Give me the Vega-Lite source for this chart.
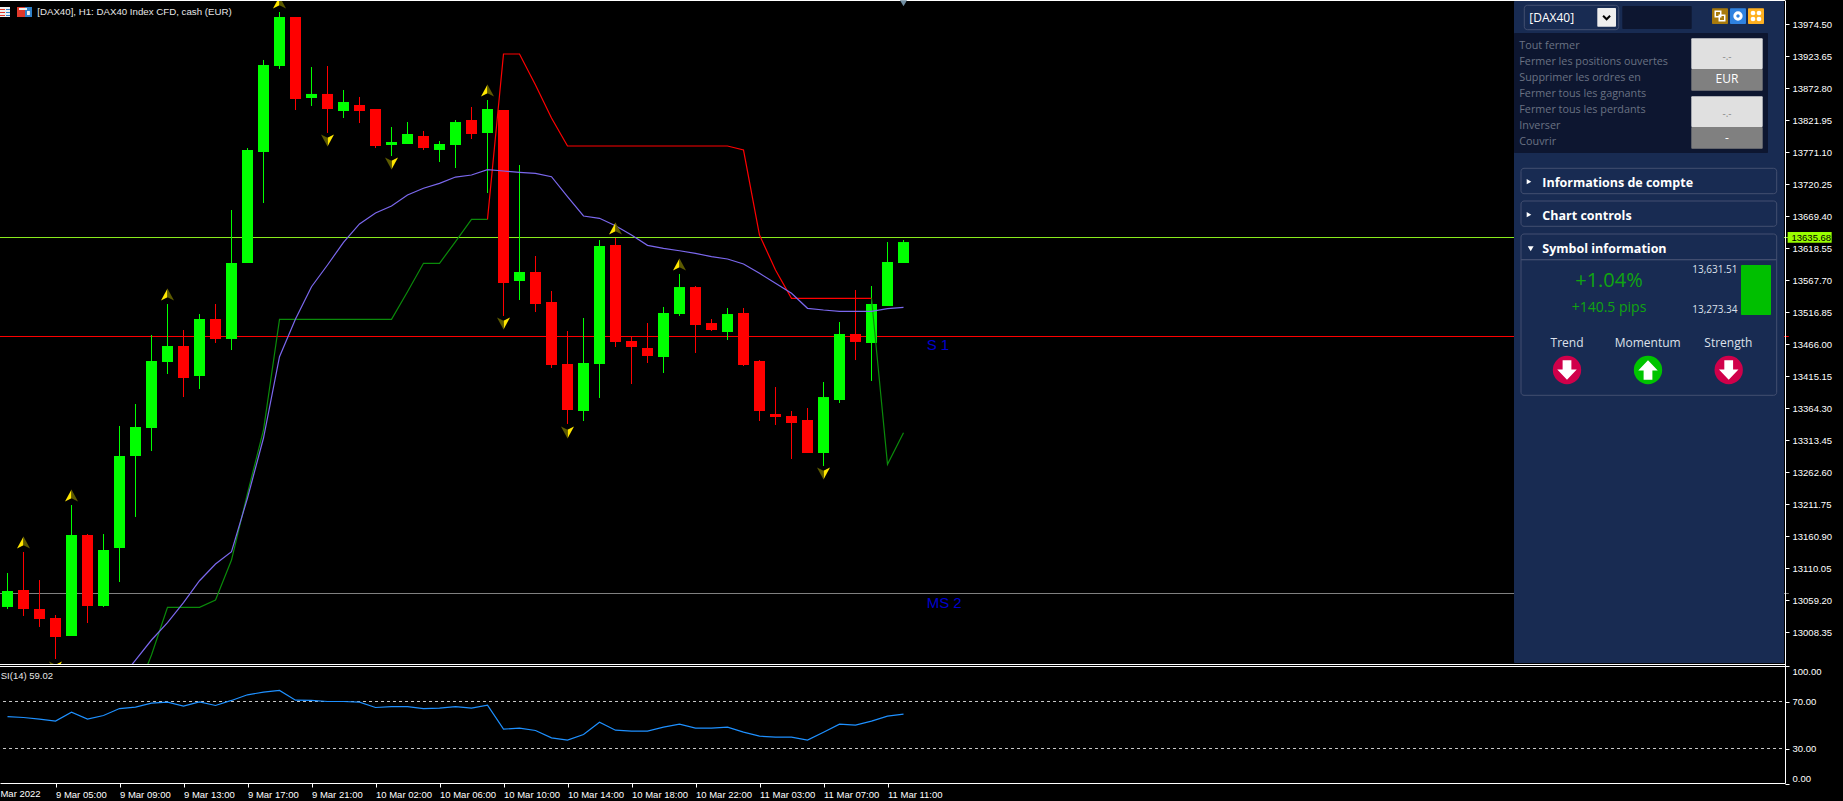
{
  "$schema": "https://vega.github.io/schema/vega-lite/v6.json",
  "autosize": "none",
  "width": 1785,
  "height": 783,
  "padding": {"left": 0, "top": 0, "right": 58, "bottom": 18},
  "background": "#000000",
  "config": {
    "view": {"stroke": null},
    "axis": {"labelFont": "Liberation Sans", "labelFontSize": 9.5, "labelColor": "#ffffff", "tickColor": "#ffffff", "domainColor": "#ffffff", "grid": false, "title": null, "labelOverlap": false, "labelFlush": false, "labelBound": false, "tickOpacity": 1},
    "text": {"font": "Liberation Sans"}
  },
  "datasets": {
    "candles": [
      {"i":0,"t":"9 Mar 02:00","o":13048.6,"h":13102.6,"l":13045.4,"c":13074.0},
      {"i":1,"t":"9 Mar 03:00","o":13075.6,"h":13136.0,"l":13034.3,"c":13045.4},
      {"i":2,"t":"9 Mar 04:00","o":13045.4,"h":13091.4,"l":13016.8,"c":13029.5},
      {"i":3,"t":"9 Mar 05:00","o":13031.1,"h":13035.8,"l":12965.9,"c":13000.9},
      {"i":4,"t":"9 Mar 06:00","o":13002.5,"h":13210.6,"l":13002.5,"c":13163.0},
      {"i":5,"t":"9 Mar 07:00","o":13163.0,"h":13164.5,"l":13023.1,"c":13050.1},
      {"i":6,"t":"9 Mar 08:00","o":13050.1,"h":13164.5,"l":13048.6,"c":13139.1},
      {"i":7,"t":"9 Mar 09:00","o":13142.3,"h":13336.2,"l":13088.3,"c":13288.5},
      {"i":8,"t":"9 Mar 10:00","o":13288.5,"h":13371.1,"l":13191.6,"c":13334.6},
      {"i":9,"t":"9 Mar 11:00","o":13333.0,"h":13480.8,"l":13296.4,"c":13439.5},
      {"i":10,"t":"9 Mar 12:00","o":13437.9,"h":13530.0,"l":13418.8,"c":13463.3},
      {"i":11,"t":"9 Mar 13:00","o":13463.3,"h":13488.7,"l":13382.2,"c":13412.4},
      {"i":12,"t":"9 Mar 14:00","o":13415.6,"h":13514.1,"l":13395.0,"c":13506.2},
      {"i":13,"t":"9 Mar 15:00","o":13506.2,"h":13530.0,"l":13468.1,"c":13474.4},
      {"i":14,"t":"9 Mar 16:00","o":13474.4,"h":13679.4,"l":13456.9,"c":13595.2},
      {"i":15,"t":"9 Mar 17:00","o":13595.2,"h":13777.9,"l":13595.2,"c":13774.8},
      {"i":16,"t":"9 Mar 18:00","o":13771.6,"h":13917.8,"l":13690.5,"c":13909.8},
      {"i":17,"t":"9 Mar 19:00","o":13908.2,"h":13994.0,"l":13903.5,"c":13986.1},
      {"i":18,"t":"9 Mar 20:00","o":13986.1,"h":13986.1,"l":13838.3,"c":13855.8},
      {"i":19,"t":"9 Mar 21:00","o":13857.4,"h":13906.6,"l":13844.7,"c":13863.8},
      {"i":20,"t":"9 Mar 22:00","o":13863.8,"h":13908.2,"l":13801.8,"c":13839.9},
      {"i":21,"t":"9 Mar 23:00","o":13836.7,"h":13870.1,"l":13825.6,"c":13851.0},
      {"i":22,"t":"10 Mar 01:00","o":13846.3,"h":13859.0,"l":13817.6,"c":13836.7},
      {"i":23,"t":"10 Mar 02:00","o":13839.9,"h":13839.9,"l":13777.9,"c":13781.1},
      {"i":24,"t":"10 Mar 03:00","o":13782.7,"h":13811.3,"l":13765.2,"c":13787.5},
      {"i":25,"t":"10 Mar 04:00","o":13784.3,"h":13819.2,"l":13784.3,"c":13800.2},
      {"i":26,"t":"10 Mar 05:00","o":13797.0,"h":13805.0,"l":13774.8,"c":13777.9},
      {"i":27,"t":"10 Mar 06:00","o":13774.8,"h":13789.0,"l":13755.7,"c":13784.3},
      {"i":28,"t":"10 Mar 07:00","o":13782.7,"h":13822.4,"l":13746.1,"c":13819.2},
      {"i":29,"t":"10 Mar 08:00","o":13822.4,"h":13843.1,"l":13792.2,"c":13800.2},
      {"i":30,"t":"10 Mar 09:00","o":13801.8,"h":13854.2,"l":13706.4,"c":13839.9},
      {"i":31,"t":"10 Mar 10:00","o":13838.3,"h":13838.3,"l":13511.0,"c":13563.4},
      {"i":32,"t":"10 Mar 11:00","o":13566.6,"h":13750.9,"l":13536.4,"c":13580.9},
      {"i":33,"t":"10 Mar 12:00","o":13580.9,"h":13606.3,"l":13517.3,"c":13530.0},
      {"i":34,"t":"10 Mar 13:00","o":13533.2,"h":13550.7,"l":13428.3,"c":13433.1},
      {"i":35,"t":"10 Mar 14:00","o":13434.7,"h":13487.1,"l":13339.4,"c":13361.6},
      {"i":36,"t":"10 Mar 15:00","o":13360.0,"h":13507.8,"l":13344.1,"c":13436.3},
      {"i":37,"t":"10 Mar 16:00","o":13434.7,"h":13631.7,"l":13380.7,"c":13622.2},
      {"i":38,"t":"10 Mar 17:00","o":13623.8,"h":13634.9,"l":13461.7,"c":13469.7},
      {"i":39,"t":"10 Mar 18:00","o":13471.2,"h":13477.6,"l":13402.9,"c":13461.7},
      {"i":40,"t":"10 Mar 19:00","o":13460.1,"h":13499.8,"l":13436.3,"c":13447.4},
      {"i":41,"t":"10 Mar 20:00","o":13445.8,"h":13525.3,"l":13420.4,"c":13515.7},
      {"i":42,"t":"10 Mar 21:00","o":13514.1,"h":13577.7,"l":13511.0,"c":13557.0},
      {"i":43,"t":"10 Mar 22:00","o":13557.0,"h":13558.6,"l":13452.2,"c":13496.7},
      {"i":44,"t":"10 Mar 23:00","o":13499.8,"h":13506.2,"l":13487.1,"c":13488.7},
      {"i":45,"t":"11 Mar 01:00","o":13485.5,"h":13523.7,"l":13472.8,"c":13514.1},
      {"i":46,"t":"11 Mar 02:00","o":13515.7,"h":13523.7,"l":13431.5,"c":13433.1},
      {"i":47,"t":"11 Mar 03:00","o":13439.5,"h":13441.0,"l":13344.1,"c":13360.0},
      {"i":48,"t":"11 Mar 04:00","o":13355.2,"h":13398.1,"l":13337.8,"c":13350.5},
      {"i":49,"t":"11 Mar 05:00","o":13352.1,"h":13360.0,"l":13283.7,"c":13340.9},
      {"i":50,"t":"11 Mar 06:00","o":13345.7,"h":13364.8,"l":13293.3,"c":13293.3},
      {"i":51,"t":"11 Mar 07:00","o":13293.3,"h":13406.1,"l":13272.6,"c":13382.2},
      {"i":52,"t":"11 Mar 08:00","o":13377.5,"h":13501.4,"l":13372.7,"c":13482.4},
      {"i":53,"t":"11 Mar 09:00","o":13482.4,"h":13552.3,"l":13441.0,"c":13469.7},
      {"i":54,"t":"11 Mar 10:00","o":13468.1,"h":13558.6,"l":13407.7,"c":13530.0},
      {"i":55,"t":"11 Mar 11:00","o":13526.8,"h":13628.5,"l":13526.8,"c":13596.8},
      {"i":56,"t":"11 Mar 12:00","o":13595.2,"h":13631.7,"l":13595.2,"c":13628.5}
    ],
    "ma": [
      {"i":7,"p":12932.5},{"i":8,"p":12964.3},{"i":9,"p":12996.1},{"i":10,"p":13023.6},{"i":11,"p":13055.4},{"i":12,"p":13090.3},{"i":13,"p":13116.9},{"i":14,"p":13136.4},{"i":15,"p":13221.8},{"i":16,"p":13317.1},{"i":17,"p":13446.3},{"i":18,"p":13506.2},{"i":19,"p":13557.5},{"i":20,"p":13592.0},{"i":21,"p":13628.1},{"i":22,"p":13657.2},{"i":23,"p":13674.6},{"i":24,"p":13685.8},{"i":25,"p":13703.2},{"i":26,"p":13713.9},{"i":27,"p":13721.8},{"i":28,"p":13731.8},{"i":29,"p":13735.0},{"i":30,"p":13743.4},{"i":31,"p":13741.4},{"i":32,"p":13739.3},{"i":33,"p":13737.7},{"i":34,"p":13732.3},{"i":35,"p":13700.5},{"i":36,"p":13669.9},{"i":37,"p":13666.2},{"i":38,"p":13654.5},{"i":39,"p":13639.7},{"i":40,"p":13623.3},{"i":41,"p":13618.5},{"i":42,"p":13614.7},{"i":43,"p":13610.6},{"i":44,"p":13605.2},{"i":45,"p":13601.5},{"i":46,"p":13593.6},{"i":47,"p":13578.8},{"i":48,"p":13562.9},{"i":49,"p":13547.0},{"i":50,"p":13523.2},{"i":51,"p":13520.5},{"i":52,"p":13518.4},{"i":53,"p":13518.4},{"i":54,"p":13518.4},{"i":55,"p":13522.6},{"i":56,"p":13524.8}
    ],
    "trend": [
      {"leg":"up1","i":8,"p":12908.7},{"leg":"up1","i":9,"p":12972.3},{"leg":"up1","i":10,"p":13048.1},{"leg":"up1","i":11,"p":13048.1},{"leg":"up1","i":12,"p":13048.1},{"leg":"up1","i":13,"p":13059.7},{"leg":"up1","i":14,"p":13123.2},{"leg":"up1","i":15,"p":13229.2},{"leg":"up1","i":16,"p":13329.8},{"leg":"up1","i":17,"p":13505.7},{"leg":"up1","i":18,"p":13505.7},{"leg":"up1","i":19,"p":13505.7},{"leg":"up1","i":20,"p":13505.7},{"leg":"up1","i":21,"p":13505.7},{"leg":"up1","i":22,"p":13505.7},{"leg":"up1","i":23,"p":13505.7},{"leg":"up1","i":24,"p":13505.7},{"leg":"up1","i":25,"p":13549.6},{"leg":"up1","i":26,"p":13594.7},{"leg":"up1","i":27,"p":13594.7},{"leg":"up1","i":28,"p":13629.0},{"leg":"up1","i":29,"p":13664.6},{"leg":"up1","i":30,"p":13664.6},
      {"leg":"down","i":30,"p":13664.6},{"leg":"down","i":31,"p":13927.3},{"leg":"down","i":32,"p":13927.3},{"leg":"down","i":33,"p":13878.0},{"leg":"down","i":34,"p":13825.6},{"leg":"down","i":35,"p":13781.1},{"leg":"down","i":36,"p":13781.1},{"leg":"down","i":37,"p":13781.1},{"leg":"down","i":38,"p":13781.1},{"leg":"down","i":39,"p":13781.1},{"leg":"down","i":40,"p":13781.1},{"leg":"down","i":41,"p":13781.1},{"leg":"down","i":42,"p":13781.1},{"leg":"down","i":43,"p":13781.1},{"leg":"down","i":44,"p":13781.1},{"leg":"down","i":45,"p":13781.1},{"leg":"down","i":46,"p":13774.7},{"leg":"down","i":47,"p":13639.7},{"leg":"down","i":48,"p":13584.1},{"leg":"down","i":49,"p":13539.1},{"leg":"down","i":50,"p":13539.1},{"leg":"down","i":51,"p":13539.1},{"leg":"down","i":52,"p":13539.1},{"leg":"down","i":53,"p":13539.1},{"leg":"down","i":54,"p":13539.1},
      {"leg":"up2","i":54,"p":13539.1},{"leg":"up2","i":55,"p":13275.3},{"leg":"up2","i":56,"p":13325.5}
    ],
    "rsi": [
      {"i":0,"rsi":57.2},{"i":1,"rsi":56.4},{"i":2,"rsi":55.0},{"i":3,"rsi":53.3},{"i":4,"rsi":60.9},{"i":5,"rsi":55.0},{"i":6,"rsi":58.1},{"i":7,"rsi":64.0},{"i":8,"rsi":65.2},{"i":9,"rsi":68.6},{"i":10,"rsi":69.4},{"i":11,"rsi":66.0},{"i":12,"rsi":69.7},{"i":13,"rsi":66.6},{"i":14,"rsi":70.9},{"i":15,"rsi":75.7},{"i":16,"rsi":77.9},{"i":17,"rsi":79.4},{"i":18,"rsi":71.1},{"i":19,"rsi":70.9},{"i":20,"rsi":70.0},{"i":21,"rsi":70.0},{"i":22,"rsi":69.4},{"i":23,"rsi":64.9},{"i":24,"rsi":65.7},{"i":25,"rsi":65.7},{"i":26,"rsi":64.0},{"i":27,"rsi":64.3},{"i":28,"rsi":65.7},{"i":29,"rsi":64.3},{"i":30,"rsi":66.9},{"i":31,"rsi":46.5},{"i":32,"rsi":47.3},{"i":33,"rsi":45.3},{"i":34,"rsi":39.1},{"i":35,"rsi":37.1},{"i":36,"rsi":41.9},{"i":37,"rsi":52.4},{"i":38,"rsi":45.6},{"i":39,"rsi":44.8},{"i":40,"rsi":44.8},{"i":41,"rsi":48.2},{"i":42,"rsi":50.7},{"i":43,"rsi":47.3},{"i":44,"rsi":47.3},{"i":45,"rsi":48.2},{"i":46,"rsi":43.9},{"i":47,"rsi":40.5},{"i":48,"rsi":39.6},{"i":49,"rsi":39.6},{"i":50,"rsi":37.1},{"i":51,"rsi":43.9},{"i":52,"rsi":50.7},{"i":53,"rsi":49.9},{"i":54,"rsi":53.3},{"i":55,"rsi":57.5},{"i":56,"rsi":59.2}
    ],
    "levels": [
      {"name":"Bid","p":13635.68,"i":-0.46875,"i2":111.33},
      {"name":"S 1","p":13478.4,"i":-0.46875,"i2":111.33},
      {"name":"MS 2","p":13070.0,"i":-0.46875,"i2":111.33}
    ],
    "frame": [
      {"p":14012.3,"i":-0.46875,"i2":111.09375},
      {"p":12957.18,"i":-0.46875,"i2":111.09375},
      {"p":12954.0,"i":-0.46875,"i2":111.09375}
    ],
    "fractals": [
      {"dir":"up","i":1,"p":13150.2},{"dir":"up","i":4,"p":13224.9},{"dir":"up","i":10,"p":13544.3},{"dir":"up","i":17,"p":14008.4},{"dir":"up","i":30,"p":13868.5},{"dir":"up","i":38,"p":13649.2},{"dir":"up","i":42,"p":13592.0},
      {"dir":"down","i":3,"p":12953.2},{"dir":"down","i":20,"p":13790.6},{"dir":"down","i":24,"p":13754.1},{"dir":"down","i":31,"p":13499.8},{"dir":"down","i":35,"p":13326.6},{"dir":"down","i":51,"p":13261.5}
    ],
    "boxes": [
      {"part":"cover","i":-0.469,"i2":111.09,"p":12957.9,"p2":12768.88},
      {"part":"tag","i":111.26,"i2":114.01,"p":13644.4,"p2":13627.4},
      {"part":"paper","i":-0.469,"i2":0.156,"p":14001.99,"p2":13986.1},
      {"part":"red","i":-0.469,"i2":-0.156,"p":13998.8,"p2":13997.2},
      {"part":"red","i":-0.469,"i2":-0.156,"p":13994.0,"p2":13992.5},
      {"part":"red","i":-0.469,"i2":-0.156,"p":13989.3,"p2":13987.7},
      {"part":"blue","i":-0.094,"i2":0.156,"p":13998.8,"p2":13997.2},
      {"part":"blue","i":-0.094,"i2":0.156,"p":13994.0,"p2":13992.5},
      {"part":"blue","i":-0.094,"i2":0.156,"p":13989.3,"p2":13987.7},
      {"part":"red","i":0.594,"i2":1.094,"p":14001.99,"p2":13986.1},
      {"part":"blue","i":1.094,"i2":1.531,"p":14001.99,"p2":13986.1},
      {"part":"paper","i":0.72,"i2":1.22,"p":14000.4,"p2":13997.2},
      {"part":"paper","i":1.22,"i2":1.4,"p":13995.6,"p2":13989.3}
    ],
    "notes": [
      {"label":"S 1","i":57.45,"p":13464.1},
      {"label":"MS 2","i":57.45,"p":13055.7}
    ],
    "captions": [
      {"label":"[DAX40], H1:  DAX40 Index CFD, cash (EUR)","i":1.86,"p":13994.5}
    ],
    "panelFills": [
      {"part":"panel","col":0,"col2":270,"line":1,"line2":663},
      {"part":"dark","col":108.3,"col2":177.7,"line":6,"line2":29},
      {"part":"select","col":83.3,"col2":102,"line":8,"line2":26.7},
      {"part":"copy","col":198,"col2":214,"line":8.3,"line2":24},
      {"part":"settings","col":216,"col2":232,"line":8.3,"line2":24},
      {"part":"apps","col":234,"col2":250,"line":8.3,"line2":24},
      {"part":"dark","col":0,"col2":254,"line":33,"line2":153},
      {"part":"light","col":177.3,"col2":248.7,"line":38.3,"line2":69},
      {"part":"grey","col":177.3,"col2":248.7,"line":69,"line2":90.7},
      {"part":"light","col":177.3,"col2":248.7,"line":96.3,"line2":127},
      {"part":"grey","col":177.3,"col2":248.7,"line":127,"line2":148.7},
      {"part":"range","col":227,"col2":257,"line":265,"line2":315}
    ],
    "panelFrames": [
      {"col":10.3,"col2":104.7,"line":5.3,"line2":29.7},
      {"col":7,"col2":262.7,"line":168.3,"line2":193.7},
      {"col":7,"col2":262.7,"line":201,"line2":226.3},
      {"col":7,"col2":262.7,"line":234,"line2":395.3},
      {"col":7,"col2":262.7,"line":259.7,"line2":259.7}
    ],
    "panelText": [
      {"group":"menu","label":"Tout fermer","col":5.3,"line":45},
      {"group":"menu","label":"Fermer les positions ouvertes","col":5.3,"line":61},
      {"group":"menu","label":"Supprimer les ordres en","col":5.3,"line":77},
      {"group":"menu","label":"Fermer tous les gagnants","col":5.3,"line":93},
      {"group":"menu","label":"Fermer tous les perdants","col":5.3,"line":109},
      {"group":"menu","label":"Inverser","col":5.3,"line":125},
      {"group":"menu","label":"Couvrir","col":5.3,"line":141},
      {"group":"head","label":"Informations de compte","col":28.3,"line":181.7},
      {"group":"head","label":"Chart controls","col":28.3,"line":214.7},
      {"group":"head","label":"Symbol information","col":28.3,"line":248.3},
      {"group":"combo","label":"[DAX40]","col":15.3,"line":17.7},
      {"group":"gain","label":"+1.04%","col":95,"line":280.7},
      {"group":"pips","label":"+140.5 pips","col":95,"line":308.3},
      {"group":"range","label":"13,631.51","col":223.5,"line":270.3},
      {"group":"range","label":"13,273.34","col":223.5,"line":309.7},
      {"group":"meter","label":"Trend","col":53,"line":342.7},
      {"group":"meter","label":"Momentum","col":133.7,"line":342.7},
      {"group":"meter","label":"Strength","col":214.3,"line":342.7},
      {"group":"dash","label":"-.-","col":213,"line":56.7},
      {"group":"dash","label":"-.-","col":213,"line":114.3},
      {"group":"btn","label":"EUR","col":213,"line":79},
      {"group":"btn","label":"-","col":213,"line":137.7}
    ],
    "signals": [
      {"name":"Trend","sig":"down","col":53,"line":370},
      {"name":"Momentum","sig":"up","col":134,"line":370},
      {"name":"Strength","sig":"down","col":214.7,"line":370}
    ],
    "collapsed": [{"col":15,"line":181.7},{"col":15,"line":214.7}],
    "expanded": [{"col":16.7,"line":248.7}]
  },
  "resolve": {"scale": {"x": "independent", "y": "independent", "color": "independent"}},
  "layer": [
    {
      "encoding": {
        "x": {"field": "i", "type": "quantitative", "scale": {"domain": [-0.46875, 111.09375], "nice": false, "zero": false, "padding": 0},
          "axis": {"orient": "bottom", "zindex": 1, "values": [3, 7, 11, 15, 19, 23, 27, 31, 35, 39, 43, 47, 51, 55], "tickSize": 4, "labelAlign": "left", "labelBaseline": "top", "labelPadding": 2, "labelAngle": 0,
            "labelExpr": "{'3':'9 Mar 05:00','7':'9 Mar 09:00','11':'9 Mar 13:00','15':'9 Mar 17:00','19':'9 Mar 21:00','23':'10 Mar 02:00','27':'10 Mar 06:00','31':'10 Mar 10:00','35':'10 Mar 14:00','39':'10 Mar 18:00','43':'10 Mar 22:00','47':'11 Mar 03:00','51':'11 Mar 07:00','55':'11 Mar 11:00'}[datum.value]"}},
        "y": {"field": "p", "type": "quantitative", "scale": {"domain": [12768.88, 14013.11], "nice": false, "zero": false, "padding": 0},
          "axis": {"orient": "right", "zindex": 1, "values": [13974.5, 13923.65, 13872.8, 13821.95, 13771.1, 13720.25, 13669.4, 13618.55, 13567.7, 13516.85, 13466, 13415.15, 13364.3, 13313.45, 13262.6, 13211.75, 13160.9, 13110.05, 13059.2, 13008.35], "format": ".2f", "tickSize": 4, "labelPadding": 3}}
      },
      "layer": [
        {
          "data": {"name": "levels"},
          "mark": {"type": "rule", "strokeWidth": 1},
          "encoding": {
            "x2": {"field": "i2"},
            "color": {"condition": [{"test": "datum.name == 'Bid'", "value": "#8CF01E"}, {"test": "datum.name == 'S 1'", "value": "#FF0000"}], "value": "#808080"}
          }
        },
        {
          "data": {"name": "candles"},
          "mark": {"type": "rule", "strokeWidth": 1},
          "encoding": {
            "y": {"field": "l", "type": "quantitative"},
            "y2": {"field": "h"},
            "color": {"condition": {"test": "datum.c >= datum.o", "value": "#00FF00"}, "value": "#FF0000"}
          }
        },
        {
          "data": {"name": "candles"},
          "mark": {"type": "bar", "size": 11},
          "encoding": {
            "y": {"field": "o", "type": "quantitative"},
            "y2": {"field": "c"},
            "color": {"condition": {"test": "datum.c >= datum.o", "value": "#00FF00"}, "value": "#FF0000"}
          }
        },
        {
          "data": {"name": "trend"},
          "mark": {"type": "line", "strokeWidth": 1.2},
          "encoding": {
            "detail": {"field": "leg"},
            "color": {"field": "leg", "type": "nominal", "legend": null, "scale": {"domain": ["up1", "down", "up2"], "range": ["#0A8A0A", "#FF0000", "#0A8A0A"]}}
          }
        },
        {
          "data": {"name": "ma"},
          "mark": {"type": "line", "strokeWidth": 1.2, "color": "#7B68EE"},
          "encoding": {}
        },
        {
          "data": {"name": "fractals"},
          "transform": [{"filter": "datum.dir == 'up'"}],
          "mark": {"type": "point", "filled": true, "opacity": 1, "size": 170, "color": "#FFE600", "shape": "M0,-1 L-1,0.85 L0,0.35 Z"},
          "encoding": {}
        },
        {
          "data": {"name": "fractals"},
          "transform": [{"filter": "datum.dir == 'up'"}],
          "mark": {"type": "point", "filled": true, "opacity": 1, "size": 170, "color": "#5C5A00", "shape": "M0,-1 L1,0.85 L0,0.35 Z"},
          "encoding": {}
        },
        {
          "data": {"name": "fractals"},
          "transform": [{"filter": "datum.dir == 'down'"}],
          "mark": {"type": "point", "filled": true, "opacity": 1, "size": 170, "color": "#FFE600", "shape": "M0,1 L1,-0.85 L0,-0.35 Z"},
          "encoding": {}
        },
        {
          "data": {"name": "fractals"},
          "transform": [{"filter": "datum.dir == 'down'"}],
          "mark": {"type": "point", "filled": true, "opacity": 1, "size": 170, "color": "#5C5A00", "shape": "M0,1 L-1,-0.85 L0,-0.35 Z"},
          "encoding": {}
        },
        {
          "data": {"name": "boxes"},
          "mark": {"type": "rect"},
          "encoding": {
            "x2": {"field": "i2"},
            "y2": {"field": "p2"},
            "color": {"condition": [
              {"test": "datum.part == 'cover'", "value": "#000000"},
              {"test": "datum.part == 'tag'", "value": "#99FF00"},
              {"test": "datum.part == 'paper'", "value": "#F0F0F0"},
              {"test": "datum.part == 'red'", "value": "#E0392B"}
            ], "value": "#2F80C8"}
          }
        },
        {
          "data": {"name": "frame"},
          "mark": {"type": "rule", "strokeWidth": 1, "color": "#FFFFFF"},
          "encoding": {"x2": {"field": "i2"}}
        },
        {
          "data": {"name": "notes"},
          "mark": {"type": "text", "align": "left", "baseline": "middle", "fontSize": 15, "color": "#0000CD"},
          "encoding": {"text": {"field": "label"}}
        },
        {
          "data": {"name": "captions"},
          "mark": {"type": "text", "align": "left", "baseline": "middle", "fontSize": 9.7, "color": "#E6E6E6"},
          "encoding": {"text": {"field": "label"}}
        },
        {
          "data": {"values": [{"label": "13635.68", "i": 111.5, "p": 13635.68}]},
          "mark": {"type": "text", "align": "left", "baseline": "middle", "fontSize": 9.5, "color": "#000000"},
          "encoding": {"text": {"field": "label"}}
        },
        {
          "data": {"values": [{"i": 56, "p": 14008}]},
          "mark": {"type": "point", "filled": true, "opacity": 1, "shape": "triangle-down", "size": 50, "color": "#6F8CA0"},
          "encoding": {}
        }
      ]
    },
    {
      "encoding": {
        "x": {"field": "i", "type": "quantitative", "axis": null, "scale": {"domain": [-0.46875, 111.09375], "nice": false, "zero": false, "padding": 0}},
        "y": {"field": "rsi", "type": "quantitative", "scale": {"domain": [0, 100], "range": [783.75, 666.25], "nice": false, "zero": false, "padding": 0},
          "axis": {"orient": "right", "zindex": 1, "domain": false, "values": [100, 70, 30, 0], "format": ".2f", "tickSize": 4, "labelPadding": 3,
            "labelBaseline": {"condition": [{"test": "datum.value == 100", "value": "top"}, {"test": "datum.value == 0", "value": "bottom"}], "value": "middle"}}}
      },
      "layer": [
        {
          "data": {"values": [{"rsi": 70, "i": -0.28, "i2": 111.09375}, {"rsi": 30, "i": -0.28, "i2": 111.09375}]},
          "mark": {"type": "rule", "strokeWidth": 1, "strokeDash": [3, 3], "color": "#C8C8C8"},
          "encoding": {"x2": {"field": "i2"}}
        },
        {
          "data": {"name": "rsi"},
          "mark": {"type": "line", "strokeWidth": 1.2, "color": "#1E90FF"},
          "encoding": {}
        },
        {
          "data": {"values": [{"label": "SI(14) 59.02", "i": -0.42, "rsi": 92}]},
          "mark": {"type": "text", "align": "left", "baseline": "middle", "fontSize": 9.5, "color": "#E6E6E6"},
          "encoding": {"text": {"field": "label"}}
        },
        {
          "data": {"values": [{"label": "Mar 2022", "i": -0.44, "rsi": -8.5}]},
          "mark": {"type": "text", "align": "left", "baseline": "middle", "fontSize": 9.5, "color": "#FFFFFF"},
          "encoding": {"text": {"field": "label"}}
        }
      ]
    },
    {
      "encoding": {
        "x": {"field": "col", "type": "quantitative", "axis": null, "scale": {"domain": [0, 271], "range": [1514, 1785], "nice": false, "zero": false, "padding": 0}},
        "y": {"field": "line", "type": "quantitative", "axis": null, "scale": {"domain": [0, 664], "range": [0, 664], "nice": false, "zero": false, "padding": 0}}
      },
      "layer": [
        {
          "data": {"name": "panelFills"},
          "mark": {"type": "rect", "cornerRadius": 1},
          "encoding": {
            "x2": {"field": "col2"},
            "y2": {"field": "line2"},
            "color": {"field": "part", "type": "nominal", "legend": null, "scale": {
              "domain": ["panel", "dark", "select", "copy", "settings", "apps", "light", "grey", "range"],
              "range": ["#182B52", "#0D1630", "#EEEEEE", "#A87A0C", "#2F82E0", "#FFB020", "#E0E0E0", "#808080", "#00BF00"]}}
          }
        },
        {
          "data": {"name": "panelFrames"},
          "mark": {"type": "rect", "fillOpacity": 0, "stroke": "#434F70", "strokeWidth": 1, "cornerRadius": 3},
          "encoding": {"x2": {"field": "col2"}, "y2": {"field": "line2"}}
        },
        {
          "data": {"values": [{"col": 92.6, "line": 17.3}]},
          "mark": {"type": "point", "filled": false, "opacity": 1, "size": 100, "stroke": "#000000", "strokeWidth": 2, "shape": "M-0.7,-0.3 L0,0.4 L0.7,-0.3"},
          "encoding": {}
        },
        {
          "data": {"values": [{"col": 204, "line": 14}, {"col": 208, "line": 18}]},
          "mark": {"type": "point", "shape": "square", "filled": false, "opacity": 1, "size": 30, "stroke": "#FFFFFF", "strokeWidth": 1.5},
          "encoding": {}
        },
        {
          "data": {"values": [{"col": 224, "line": 16}]},
          "mark": {"type": "point", "shape": "circle", "filled": false, "opacity": 1, "size": 40, "stroke": "#FFFFFF", "strokeWidth": 3},
          "encoding": {}
        },
        {
          "data": {"values": [{"col": 239, "line": 13}, {"col": 245, "line": 13}, {"col": 239, "line": 19}, {"col": 245, "line": 19}]},
          "mark": {"type": "point", "shape": "circle", "filled": true, "opacity": 1, "size": 22, "color": "#FFFFFF"},
          "encoding": {}
        },
        {
          "data": {"name": "collapsed"},
          "mark": {"type": "point", "shape": "triangle-right", "filled": true, "opacity": 1, "size": 28, "color": "#FFFFFF"},
          "encoding": {}
        },
        {
          "data": {"name": "expanded"},
          "mark": {"type": "point", "shape": "triangle-down", "filled": true, "opacity": 1, "size": 34, "color": "#FFFFFF"},
          "encoding": {}
        },
        {
          "data": {"name": "signals"},
          "mark": {"type": "point", "shape": "circle", "filled": true, "opacity": 1, "size": 804},
          "encoding": {"color": {"condition": {"test": "datum.sig == 'up'", "value": "#00C400"}, "value": "#D0004A"}}
        },
        {
          "data": {"name": "signals"},
          "transform": [{"filter": "datum.sig == 'down'"}],
          "mark": {"type": "point", "filled": true, "opacity": 1, "size": 380, "color": "#FFFFFF", "shape": "M-0.45,-1 L0.45,-1 L0.45,-0.05 L1,-0.05 L0,1 L-1,-0.05 L-0.45,-0.05 Z"},
          "encoding": {}
        },
        {
          "data": {"name": "signals"},
          "transform": [{"filter": "datum.sig == 'up'"}],
          "mark": {"type": "point", "filled": true, "opacity": 1, "size": 380, "color": "#FFFFFF", "shape": "M-0.45,1 L0.45,1 L0.45,0.05 L1,0.05 L0,-1 L-1,0.05 L-0.45,0.05 Z"},
          "encoding": {}
        },
        {
          "data": {"name": "panelText"},
          "transform": [{"filter": "datum.group == 'menu'"}],
          "mark": {"type": "text", "font": "Open Sans", "fontSize": 10.8, "dy": 1, "align": "left", "baseline": "middle", "color": "#6A7283"},
          "encoding": {"text": {"field": "label"}}
        },
        {
          "data": {"name": "panelText"},
          "transform": [{"filter": "datum.group == 'head'"}],
          "mark": {"type": "text", "font": "Open Sans", "fontSize": 12.5, "dy": 1, "fontWeight": "bold", "align": "left", "baseline": "middle", "color": "#FFFFFF"},
          "encoding": {"text": {"field": "label"}}
        },
        {
          "data": {"name": "panelText"},
          "transform": [{"filter": "datum.group == 'combo'"}],
          "mark": {"type": "text", "font": "Open Sans", "fontSize": 12, "align": "left", "baseline": "middle", "color": "#FFFFFF"},
          "encoding": {"text": {"field": "label"}}
        },
        {
          "data": {"name": "panelText"},
          "transform": [{"filter": "datum.group == 'gain'"}],
          "mark": {"type": "text", "font": "Open Sans", "fontSize": 20, "align": "center", "baseline": "middle", "color": "#10A510"},
          "encoding": {"text": {"field": "label"}}
        },
        {
          "data": {"name": "panelText"},
          "transform": [{"filter": "datum.group == 'pips'"}],
          "mark": {"type": "text", "font": "Open Sans", "fontSize": 14, "align": "center", "baseline": "middle", "color": "#10A510"},
          "encoding": {"text": {"field": "label"}}
        },
        {
          "data": {"name": "panelText"},
          "transform": [{"filter": "datum.group == 'range'"}],
          "mark": {"type": "text", "font": "Open Sans", "fontSize": 10, "align": "right", "baseline": "middle", "color": "#DDE1EA"},
          "encoding": {"text": {"field": "label"}}
        },
        {
          "data": {"name": "panelText"},
          "transform": [{"filter": "datum.group == 'meter'"}],
          "mark": {"type": "text", "font": "Open Sans", "fontSize": 12, "align": "center", "baseline": "middle", "color": "#DDE1EA"},
          "encoding": {"text": {"field": "label"}}
        },
        {
          "data": {"name": "panelText"},
          "transform": [{"filter": "datum.group == 'dash'"}],
          "mark": {"type": "text", "font": "Open Sans", "fontSize": 10, "align": "center", "baseline": "middle", "color": "#8C8C8C"},
          "encoding": {"text": {"field": "label"}}
        },
        {
          "data": {"name": "panelText"},
          "transform": [{"filter": "datum.group == 'btn'"}],
          "mark": {"type": "text", "font": "Open Sans", "fontSize": 12, "align": "center", "baseline": "middle", "color": "#FFFFFF"},
          "encoding": {"text": {"field": "label"}}
        }
      ]
    }
  ]
}
